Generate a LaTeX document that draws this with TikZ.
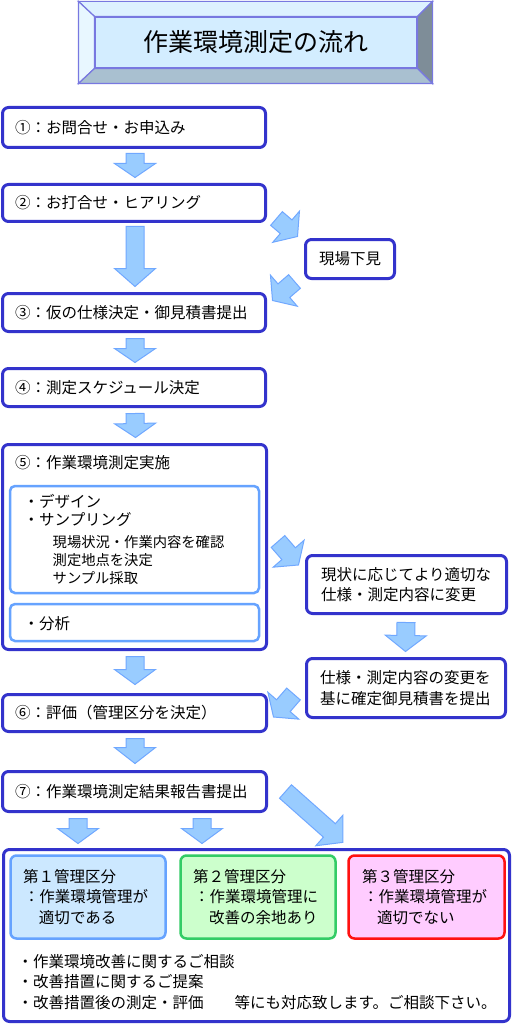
\documentclass[tikz,border=0pt]{standalone}
\usepackage{fontspec}
\setmainfont{Noto Sans CJK JP}
\usetikzlibrary{calc}
\definecolor{mainblue}{HTML}{3333CC}
\definecolor{arrowfill}{HTML}{99CCFF}
\definecolor{arrowline}{HTML}{70A8FF}
\definecolor{lightline}{HTML}{66A3FF}
\definecolor{titleline}{HTML}{7878E0}
\definecolor{tface}{HTML}{D3EDFF}
\definecolor{ttop}{HTML}{DDF1FF}
\definecolor{tleft}{HTML}{E8F7FF}
\definecolor{tright}{HTML}{7E8D98}
\definecolor{tbottom}{HTML}{A9C0D0}
\definecolor{kfill}{HTML}{CCE8FF}
\definecolor{gfill}{HTML}{CCFFCC}
\definecolor{gline}{HTML}{33CC66}
\definecolor{pfill}{HTML}{FFCCFF}
\definecolor{rline}{HTML}{FF1111}
\tikzset{
  mbox/.style={draw=mainblue, line width=3pt, rounded corners=6pt, fill=white,
    inner ysep=0pt, align=left, font=\fontsize{15.5}{20.5}\selectfont},
  ibox/.style={draw=lightline, line width=2.5pt, rounded corners=5pt, fill=white},
  kbox/.style={line width=2.5pt, rounded corners=6pt, inner ysep=0pt, align=left,
    font=\fontsize{15.5}{20.5}\selectfont},
  txt/.style={inner sep=0pt, anchor=west, font=\fontsize{15.5}{20.5}\selectfont},
  stxt/.style={inner sep=0pt, anchor=west, font=\fontsize{14.3}{18}\selectfont},
  blockarr/.style={fill=arrowfill, draw=arrowline, line width=1pt, line join=miter},
  bevel/.style={draw=titleline, line width=1.2pt, line join=miter},
}
\newcommand\barrow[3][14]{%
  \path[blockarr] let \p1=(#2), \p2=(#3),
    \n1={atan2(\y2-\y1,\x2-\x1)}, \n2={veclen(\x2-\x1,\y2-\y1)} in
    [shift={(\p1)}, rotate=\n1]
    (0pt,-9pt) -- ({\n2-#1pt},-9pt) -- ({\n2-#1pt},-20.5pt) -- (\n2,0pt)
    -- ({\n2-#1pt},20.5pt) -- ({\n2-#1pt},9pt) -- (0pt,9pt) -- cycle;}
\begin{document}
\begin{tikzpicture}[x=1pt,y=-1pt]
\fill[white] (0,0) rectangle (513,1024);
\useasboundingbox (0,0) rectangle (513,1024);

% title
\node[fill=tface, draw=titleline, line width=1.2pt, minimum width=322, minimum height=51,
  inner sep=0pt, font=\fontsize{25}{30}\selectfont] (title) at (256,42.5) {作業環境測定の流れ};
\coordinate (onw) at ($(title.north west)+(-16,-15)$);
\coordinate (one) at ($(title.north east)+(15,-15)$);
\coordinate (ose) at ($(title.south east)+(15,15)$);
\coordinate (osw) at ($(title.south west)+(-16,15)$);
\path[bevel, fill=ttop] (onw) -- (one) -- (title.north east) -- (title.north west) -- cycle;
\path[bevel, fill=tleft] (onw) -- (title.north west) -- (title.south west) -- (osw) -- cycle;
\path[bevel, fill=tright] (one) -- (ose) -- (title.south east) -- (title.north east) -- cycle;
\path[bevel, fill=tbottom] (osw) -- (title.south west) -- (title.south east) -- (ose) -- cycle;

% main column
\node[mbox, minimum width=263, minimum height=40, inner xsep=12.5pt, text width=238] (b1) at (134,127.5) {①：お問合せ・お申込み};
\node[mbox, minimum width=263, minimum height=37, inner xsep=12.5pt, text width=238] (b2) at (134,203) {②：お打合せ・ヒアリング};
\node[mbox, minimum width=263, minimum height=38, inner xsep=12.5pt, text width=238] (b3) at (134,312.5) {③：仮の仕様決定・御見積書提出};
\node[mbox, minimum width=263, minimum height=38, inner xsep=12.5pt, text width=238] (b4) at (134,387.5) {④：測定スケジュール決定};
\node[mbox, minimum width=264, minimum height=205] (b5) at (134.5,547) {};
\node[mbox, minimum width=264, minimum height=37, inner xsep=12.5pt, text width=239] (b6) at (134.5,713) {⑥：評価（管理区分を決定）};
\node[mbox, minimum width=264, minimum height=40, inner xsep=12.5pt, text width=239] (b7) at (134.5,791.5) {⑦：作業環境測定結果報告書提出};

% inside step 5
\node[txt] (t5) at (15,463) {⑤：作業環境測定実施};
\node[ibox, minimum width=249, minimum height=107] (i1) at (134.5,539.5) {};
\node[ibox, minimum width=249, minimum height=37] (i2) at (134.5,622.5) {};
\node[txt] (i1a) at (23.5,501) {・デザイン};
\node[txt] (i1b) at (23.5,520) {・サンプリング};
\node[stxt] (i1c) at (52.5,542) {現場状況・作業内容を確認};
\node[stxt] (i1d) at (52.5,560) {測定地点を決定};
\node[stxt] (i1e) at (52.5,578) {サンプル採取};
\node[txt] (i2a) at (23.5,624) {・分析};

% right column
\node[mbox, minimum width=89, minimum height=39, inner xsep=0pt, align=center] (g) at (350,259) {現場下見};
\node[mbox, minimum width=200, minimum height=58, inner xsep=14.5pt, text width=171] (r1) at (406.5,584.5) {現状に応じてより適切な\\仕様・測定内容に変更};
\node[mbox, minimum width=199, minimum height=59, inner xsep=13.5pt, text width=172] (r2) at (406,688) {仕様・測定内容の変更を\\基に確定御見積書を提出};

% bottom box
\node[mbox, minimum width=506, minimum height=172] (bb) at (256.5,935.5) {};
\node[kbox, draw=lightline, fill=kfill, minimum width=155, minimum height=83, inner xsep=12.5pt, text width=130] (k1) at (88,897)
  {第１管理区分\\\hspace*{1pt}：作業環境管理が\\\hspace*{16pt}適切である};
\node[kbox, draw=gline, fill=gfill, minimum width=155, minimum height=83, inner xsep=12.5pt, text width=130] (k2) at (258,897)
  {第２管理区分\\\hspace*{1pt}：作業環境管理に\\\hspace*{16pt}改善の余地あり};
\node[kbox, draw=rline, fill=pfill, minimum width=156, minimum height=83, inner xsep=13.5pt, text width=129] (k3) at (426.5,897)
  {第３管理区分\\\hspace*{1pt}：作業環境管理が\\\hspace*{15pt}適切でない};
\node[txt] (n1) at (17.5,962) {・作業環境改善に関するご相談};
\node[txt] (n2) at (17.5,982) {・改善措置に関するご提案};
\node[txt] (n3) at (17.5,1003) {・改善措置後の測定・評価　　等にも対応致します。ご相談下さい。};

% block arrows
\barrow{$(b1.south)+(1,4.5)$}{$(b2.north)+(1,-5.5)$}
\barrow[18]{$(b2.south)+(1,3.5)$}{$(b3.north)+(1,-5.5)$}
\barrow{$(b3.south)+(1,5.5)$}{$(b4.north)+(1,-4.5)$}
\barrow{$(b4.south)+(1,5.5)$}{$(b5.north)+(1,-5.5)$}
\barrow[15]{$(b5.south)+(0.5,5.5)$}{$(b6.north)+(0.5,-8.5)$}
\barrow[16]{$(b6.south)+(0.5,5.5)$}{$(b7.north)+(0.5,-6.5)$}
\barrow[15]{$(b7.south)+(-56.5,5.5)$}{$(bb.north)+(-178.5,-4.5)$}
\barrow[15]{$(b7.south)+(67.5,5.5)$}{$(bb.north)+(-54.5,-4.5)$}
\barrow[18]{$(b7.east)+(17.5,0)$}{$(bb.north)+(86.5,-5.5)$}
\barrow[15]{$(b2.south east)+(9.5,-4.5)$}{$(g.north west)+(-6.5,-1.5)$}
\barrow[15]{$(g.south west)+(-9.5,1.5)$}{$(b3.north east)+(5.5,8.5)$}
\barrow[15]{$(b5.east)+(10,-5.5)$}{$(r1.west)+(-6.5,-19.5)$}
\barrow[16]{$(r1.south)+(-0.5,7.5)$}{$(r2.north)+(-0.5,-5.5)$}
\barrow[15]{$(r2.west)+(-11.5,6)$}{$(b6.east)+(5.5,4)$}
\end{tikzpicture}
\end{document}
